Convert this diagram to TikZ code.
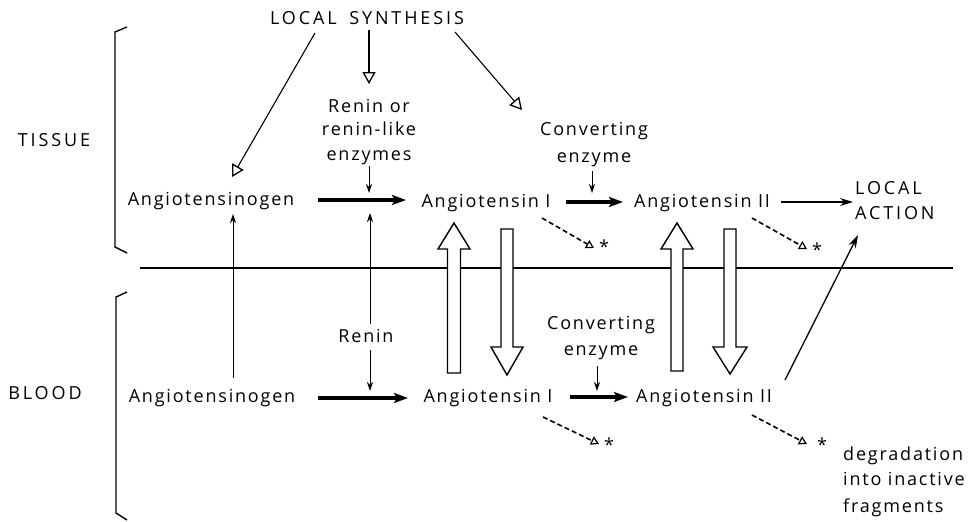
\documentclass[tikz,border=0pt]{standalone}
\usepackage{fontspec}
\setmainfont{Open Sans}[LetterSpace=10]
\newfontfamily\capsfont{Open Sans}[LetterSpace=16]
\usetikzlibrary{arrows.meta}
\begin{document}
\begin{tikzpicture}[x=1pt,y=-1pt,
  lbl/.style={inner sep=0pt, anchor=base, font=\fontsize{18}{24}\selectfont},
  lblw/.style={lbl, anchor=base west},
  caps/.style={inner sep=0pt, font=\capsfont\fontsize{18}{24}\selectfont},
  ast/.style={inner sep=0pt, font=\fontsize{18}{18}\selectfont},
  openarr/.style={line width=1.1pt, -{Triangle[open,length=12pt,width=13pt,line width=1.3pt]}},
  reacarr/.style={line width=3.5pt, -{Stealth[length=14pt,width=10pt,inset=3pt]}},
  thinarr/.style={line width=1pt, -{Stealth[length=9pt,width=6pt]}},
  medarr/.style={line width=1.3pt, -{Stealth[length=13pt,width=8pt]}},
  degarr/.style={line width=1.6pt, dash pattern=on 5pt off 3pt, -{Triangle[open,length=8pt,width=9pt,line width=1.2pt]}},
  block/.style={line width=1.4pt, fill=white, line join=miter},
  brk/.style={line width=1.4pt}
]
\useasboundingbox (0,0) rectangle (980,522);

% separating line
\draw[line width=1.2pt] (140,268) -- (953,268);

% brackets
\draw[brk] (127,27) -- (115,32) -- (115,247) -- (127,253);
\draw[brk] (127,292) -- (116,297) -- (116,513) -- (127,520);

% labels
\node[caps, anchor=base] (ls) at (367,24.5) {LOCAL\hspace{5pt} SYNTHESIS};
\node[caps] (tissue) at (54,140) {TISSUE};
\node[caps] (blood) at (45,393) {BLOOD};

\node[lbl] (ren1) at (369,112) {Renin or};
\node[lbl] (ren2) at (369,135) {renin-like};
\node[lbl] (ren3) at (369,160) {enzymes};
\node[lbl] (ce1) at (594,135) {Converting};
\node[lbl] (ce2) at (594,162) {enzyme};

\node[lbl] (tAgen) at (211,205) {Angiotensinogen};
\node[lbl] (tAI) at (486,207) {Angiotensin I};
\node[lbl] (tAII) at (702,207) {Angiotensin II};
\node[caps, anchor=base west] (la1) at (855,194.5) {LOCAL};
\node[caps, anchor=base west] (la2) at (855,219.5) {ACTION};

\node[lbl] (renin) at (366,342) {Renin};
\node[lbl] (bce1) at (601,329) {Converting};
\node[lbl] (bce2) at (601,355) {enzyme};

\node[lbl] (bAgen) at (212,402) {Angiotensinogen};
\node[lbl] (bAI) at (488,402) {Angiotensin I};
\node[lbl] (bAII) at (704,402) {Angiotensin II};

\node[lblw] (deg1) at (843,460) {degradation};
\node[lblw] (deg2) at (843,485) {into inactive};
\node[lblw] (deg3) at (843,512) {fragments};

\node[ast] (a1) at (604,247) {*};
\node[ast] (a2) at (817,250) {*};
\node[ast] (a3) at (609,445) {*};
\node[ast] (a4) at (822,445) {*};

% connector end points
\coordinate (ls1) at (315,33);   \coordinate (tg1) at (232,177);
\coordinate (ls2) at (369,30);   \coordinate (tg2) at (369,84);
\coordinate (ls3) at (455,32);   \coordinate (tg3) at (522,110);
\coordinate (r3b) at (369,166);  \coordinate (r3t) at (369,193);
\coordinate (c2b) at (592,171);  \coordinate (c2t) at (592,193);
\coordinate (bc2b) at (597,366); \coordinate (bc2t) at (597,391);
\coordinate (agB) at (233,378);  \coordinate (agT) at (233,214);
\coordinate (rnT) at (370,324);  \coordinate (rnTt) at (370,213);
\coordinate (rnB) at (370,350);  \coordinate (rnBt) at (370,391);
\coordinate (tr1s) at (318,200); \coordinate (tr1e) at (406,200);
\coordinate (tr2s) at (566,202); \coordinate (tr2e) at (623,202);
\coordinate (br1s) at (318,398); \coordinate (br1e) at (408,398);
\coordinate (br2s) at (570,397); \coordinate (br2e) at (628,397);
\coordinate (la1s) at (781,202); \coordinate (la1e) at (853,202);
\coordinate (la2s) at (785,380); \coordinate (la2e) at (858,235);
\coordinate (d1s) at (542,218);  \coordinate (d1e) at (594,248);
\coordinate (d2s) at (752,218);  \coordinate (d2e) at (807,249);
\coordinate (d3s) at (543,417);  \coordinate (d3e) at (599,444);
\coordinate (d4s) at (752,415);  \coordinate (d4e) at (807,444);

% local synthesis arrows
\draw[openarr] (ls1) -- (tg1);
\draw[openarr] (ls2) -- (tg2);
\draw[openarr] (ls3) -- (tg3);

% enzyme arrows
\draw[thinarr] (r3b) -- (r3t);
\draw[thinarr] (c2b) -- (c2t);
\draw[thinarr] (bc2b) -- (bc2t);
\draw[thinarr] (agB) -- (agT);
\draw[thinarr] (rnT) -- (rnTt);
\draw[thinarr] (rnB) -- (rnBt);

% reaction arrows
\draw[reacarr] (tr1s) -- (tr1e);
\draw[reacarr] (tr2s) -- (tr2e);
\draw[reacarr] (br1s) -- (br1e);
\draw[reacarr] (br2s) -- (br2e);

% local action
\draw[medarr] (la1s) -- (la1e);
\draw[medarr] (la2s) -- (la2e);

% degradation
\draw[degarr] (d1s) -- (d1e);
\draw[degarr] (d2s) -- (d2e);
\draw[degarr] (d3s) -- (d3e);
\draw[degarr] (d4s) -- (d4e);

% exchange block arrows
\draw[block] (447.5,373) -- (447.5,249) -- (438,249) -- (454,223) -- (470,249) -- (460.5,249) -- (460.5,373) -- cycle;
\draw[block] (501,229) -- (513,229) -- (513,347) -- (523,347) -- (507,375) -- (491,347) -- (501,347) -- cycle;
\draw[block] (671,371) -- (671,249) -- (661,249) -- (677,223) -- (693,249) -- (683,249) -- (683,371) -- cycle;
\draw[block] (724,229) -- (736,229) -- (736,347) -- (747,347) -- (730,374) -- (713,347) -- (724,347) -- cycle;
\end{tikzpicture}
\end{document}
